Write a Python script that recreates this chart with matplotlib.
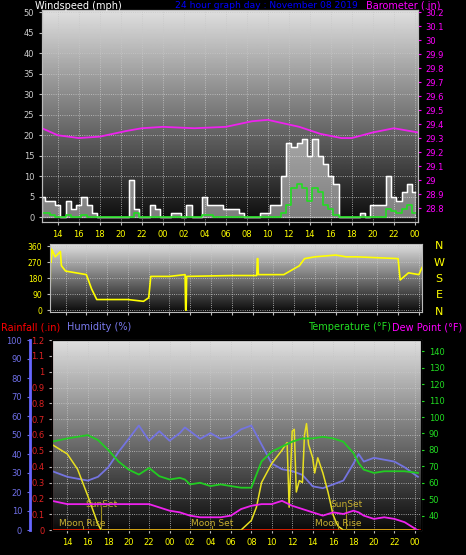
import numpy as np
import matplotlib
matplotlib.use("Agg")
import matplotlib.pyplot as plt

# hours since 00:00 of first day
t_wind = np.arange(12.5, 48.5, 0.5)
gust = [5, 4, 4, 3, 0, 4, 2, 3, 5, 3, 1, 0, 0, 0, 0, 0, 0, 9, 2, 0,
        0, 3, 2, 0, 0, 1, 1, 0, 3, 0, 0, 5, 3, 3, 3, 2, 2, 2, 1, 0,
        0, 0, 1, 1, 3, 3, 10, 18, 17, 18, 19, 15, 19, 15, 13, 10, 8, 0,
        0, 0, 0, 1, 0, 3, 3, 3, 10, 5, 4, 6, 8, 6]
avg = [1, 1, 0.5, 0, 0, 0.5, 0, 0, 0.5, 0, 0, 0, 0, 0, 0, 0, 0, 0, 1, 0,
       0, 0, 0, 0, 0, 0, 0, 0, 0, 0, 0, 0.5, 0.5, 0, 0, 0, 0, 0, 0, 0,
       0, 0, 0, 0, 0, 0, 1, 3, 7, 8, 7, 4, 7, 6, 3, 2, 0.5, 0,
       0, 0, 0, 0, 0, 0, 0, 0, 2, 1.5, 1, 2, 3, 1]

t_baro = [12.5, 14, 16, 18, 20.5, 22, 24, 27, 30, 32.5, 34, 37, 39, 41, 42, 44, 46, 48.3]
baro = [29.37, 29.32, 29.30, 29.31, 29.35, 29.37, 29.38, 29.37, 29.38, 29.42, 29.43,
        29.38, 29.33, 29.30, 29.30, 29.34, 29.37, 29.34]

t_dir = [12.5, 12.55, 12.6, 12.7, 13, 13.5, 13.6, 14, 15, 16, 16.5, 17, 18, 20, 21.5, 22,
         22.2, 24, 25.5, 25.55, 25.6, 25.65, 30, 32.4, 32.45, 32.5, 32.55, 35, 36.5, 37,
         38, 40, 41, 42, 46, 46.2, 47, 48, 48.3]
wdir = [10, 350, 270, 340, 300, 330, 250, 220, 210, 200, 120, 60, 60, 60, 50, 70,
        190, 190, 200, 0, 0, 190, 195, 195, 290, 290, 200, 200, 250, 290,
        300, 310, 300, 300, 290, 170, 210, 200, 240]

t_th = [12.5, 14, 16, 17, 18, 19, 20, 21, 22, 23, 24, 25, 25.5, 26, 27, 28, 29, 30, 31,
        32, 33, 34, 35, 36, 37, 38, 39, 40, 41, 42, 42.5, 43, 44, 45, 46, 47, 48.3]
hum = [31, 28, 26, 28, 33, 41, 48, 55, 47, 52, 47, 51, 54, 52, 48, 51, 48, 49, 53,
       55, 45, 35, 32, 31, 29, 23, 22, 24, 26, 35, 40, 36, 38, 37, 36, 33, 28]
temp = [85, 87, 89, 86, 80, 73, 68, 65, 69, 64, 62, 63, 62, 59, 60, 58, 59, 58, 57,
        57, 73, 79, 82, 85, 87, 87, 88, 87, 85, 78, 72, 68, 66, 67, 67, 67, 66]
dew = [49, 47, 47, 47, 47, 47, 47, 47, 47, 45, 43, 42, 41, 40, 39, 39, 39, 40, 44,
       46, 47, 47, 49, 46, 44, 42, 40, 42, 41, 43, 42, 40, 38, 39, 38, 36, 31]

t_sol = [12.5, 14, 15, 16, 17, 17.3, 31, 32, 32.5, 33, 34, 35, 35.5, 35.7, 36, 36.2,
         36.4, 36.7, 37, 37.2, 37.4, 37.6, 38, 38.2, 38.5, 39, 39.5, 40, 40.3, 40.5, 41, 48.3]
solar = [45, 40, 32, 18, 3, 0, 0, 5, 12, 25, 35, 42, 46, 12, 52, 53,
         20, 26, 25, 50, 56, 45, 38, 30, 38, 30, 20, 8, 4, 2, 0, 0]

events = [(17.3, "SunSet", 10), (15.5, "Moon Rise", 0), (28.2, "Moon Set", 0),
          (40.5, "Moon Rise", 0), (41.3, "SunSet", 10)]

xticks = np.arange(14, 49, 2)
xlabels = ["%02d" % (h % 24) for h in xticks]

W, H = 466, 555
fig = plt.figure(figsize=(W / 100, H / 100), dpi=100, facecolor="black")
grad = np.linspace(1, 0, 256).reshape(-1, 1)
fs = 6
tfs = 7


def box(x0, y0, x1, y1):
    return [x0 / W, 1 - y1 / H, (x1 - x0) / W, (y1 - y0) / H]


def style(ax, xmin, xmax):
    ax.set_facecolor("black")
    ax.imshow(grad, cmap="gray", extent=[0, 1, 0, 1], transform=ax.transAxes,
              aspect="auto", zorder=0, vmin=-0.05, vmax=1.15)
    ax.set_xlim(xmin, xmax)
    ax.set_xticks(xticks)
    ax.grid(True, color="#c8c8c8", linestyle=":", linewidth=0.6)
    for s in ax.spines.values():
        s.set_color("#bbbbbb")
    ax.tick_params(colors="#bbbbbb", labelsize=fs, length=2)


# windspeed / barometer
ax1 = fig.add_axes(box(42, 10, 418, 222))
style(ax1, 12.5, 48.3)
ax1.set_ylim(-1.2, 50.5)
ax1.set_yticks(range(0, 51, 5))
ax1.set_xticklabels(xlabels, color="yellow")
ax1.tick_params(axis="y", labelcolor="#cccccc")
ax1.fill_between(t_wind, gust, step="mid", color="#eeeeee", alpha=0.5, zorder=2)
ax1.step(t_wind, gust, where="mid", color="white", lw=1, zorder=3)
ax1.step(t_wind, avg, where="mid", color="#22dd22", lw=1.2, zorder=4)
ax1b = ax1.twinx()
ax1b.set_ylim(28.7, 30.215)
bt = np.round(np.arange(28.8, 30.21, 0.1), 1)
ax1b.set_yticks(bt)
ax1b.set_yticklabels(["%g" % v for v in bt])
ax1b.tick_params(colors="magenta", labelsize=fs, length=2)
ax1b.plot(t_baro, baro, color="#ee22ee", lw=1.3)
for s in ax1b.spines.values():
    s.set_color("#bbbbbb")

# wind direction
ax2 = fig.add_axes(box(50, 244, 422, 312))
style(ax2, 12.5, 48.3)
ax2.set_ylim(-10, 372)
ax2.set_yticks([0, 90, 180, 270, 360])
ax2.set_xticklabels([])
ax2.tick_params(axis="y", labelcolor="yellow", labelsize=5.5)
ax2.plot(t_dir, wdir, color="yellow", lw=1.2)
for i, c in enumerate("NWSEN"):
    fig.text(439 / W, 1 - (246 + i * 16.5) / H, c, color="yellow", fontsize=8,
             ha="center", va="center")

# temperature / humidity
ax3 = fig.add_axes(box(52, 340, 421, 530))
style(ax3, 12.5, 48.6)
ax3.set_ylim(0, 1.2)
rt = np.round(np.arange(0, 1.21, 0.1), 1)
ax3.set_yticks(rt)
ax3.set_yticklabels(["%g" % v for v in rt])
ax3.set_xticklabels(xlabels, color="yellow")
ax3.tick_params(axis="y", labelcolor="#dd2222")
ax3.spines["left"].set_color("#ff4444")
ax3.axhline(0, color="red", lw=2, zorder=5)
axh = ax3.twinx()
axh.yaxis.set_label_position("left")
axh.yaxis.tick_left()
axh.spines["left"].set_position(("outward", 16))
axh.spines["left"].set_color("#6666ff")
axh.spines["left"].set_linewidth(2)
axh.set_ylim(0, 100)
axh.set_yticks(range(0, 101, 10))
axh.tick_params(colors="#6f6fe8", labelsize=fs, length=2)
axh.plot(t_th, hum, color="#7474e0", lw=1.3)
axh.plot(t_sol, solar, color="#e8e020", lw=1.1)
for x, lab, y in events:
    axh.axvline(x, ymax=y / 100 + 0.02, color="#a09020", lw=0.8)
    axh.text(x, y + 1, lab, color="#c8b030", fontsize=6.5, ha="center", va="bottom")
axt = ax3.twinx()
axt.set_ylim(31.25, 146.9)
axt.set_yticks(range(40, 141, 10))
axt.tick_params(colors="#22dd22", labelsize=fs, length=2)
axt.plot(t_th, temp, color="#22cc22", lw=1.3)
axt.plot(t_th, dew, color="#ee22ee", lw=1.3)
ax3.axhline(0.003, color="orange", lw=1, zorder=6)

fig.text(35 / W, 1 - 6 / H, "Windspeed (mph)", color="white", fontsize=tfs, va="center")
fig.text(266 / W, 1 - 6 / H, "24 hour graph day : November 08 2019", color="blue",
         fontsize=6.6, va="center", ha="center")
fig.text(440 / W, 1 - 6 / H, "Barometer (.in)", color="magenta", fontsize=tfs,
         va="center", ha="right")
fig.text(1 / W, 1 - 327 / H, "Rainfall (.in)", color="red", fontsize=tfs, va="center")
fig.text(67 / W, 1 - 327 / H, "Humidity (%)", color="#7a7aee", fontsize=tfs, va="center")
fig.text(391 / W, 1 - 327 / H, "Temperature (°F)", color="#22dd22", fontsize=tfs,
         va="center", ha="right")
fig.text(392 / W, 1 - 327 / H, "Dew Point (°F)", color="magenta", fontsize=tfs, va="center")

fig.savefig("out.png", dpi=100, facecolor="black")
